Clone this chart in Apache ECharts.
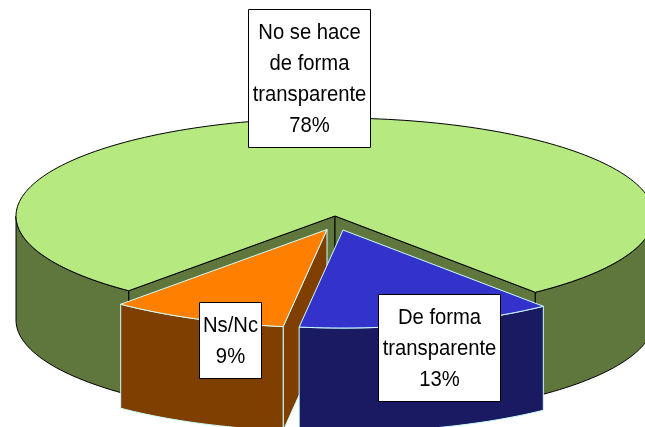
<!DOCTYPE html>
<html>
<head>
<meta charset="utf-8">
<style>html,body{margin:0;padding:0;background:#fff}#c{width:645px;height:427px}</style>
<script src="https://cdn.jsdelivr.net/npm/echarts@6/dist/echarts.min.js"></script>
</head>
<body>
<div id="c"></div>
<script>
var categories = ['No se hace de forma transparente', 'De forma transparente', 'Ns/Nc'];
var values = [78, 13, 9];
var labelLines = [['No se hace', 'de forma', 'transparente'], ['De forma', 'transparente'], ['Ns/Nc']];

var topColors = ['#B6E97F', '#3333CC', '#FF8000'];
var wallColors = ['#5F763C', '#1A1A62', '#7F3F00'];
var edgeColors = ['#000000', '#CCFFFF', '#CCFFFF'];
var offsets = [[0, 0], [8, 14], [-8, 13.5]];
var layers = [1, 3, 2];
var labelBoxes = [[248.5, 9.5, 122, 138], [378.5, 294.5, 122, 107], [199.5, 302.5, 62, 76]];

var cx = 335, cy = 216, rx = 319, ry = 98, depth = 104, startDeg = 130.3;
var total = values.reduce(function (a, b) { return a + b; }, 0);

function rim(deg, off) {
  var a = deg * Math.PI / 180;
  return [cx + off[0] + rx * Math.cos(a), cy + off[1] + ry * Math.sin(a)];
}
function arc(d0, d1, off) {
  var pts = [], n = Math.max(2, Math.ceil(Math.abs(d1 - d0) / 1.5));
  for (var i = 0; i <= n; i++) pts.push(rim(d0 + (d1 - d0) * i / n, off));
  return pts;
}
function down(p) { return [p[0], p[1] + depth]; }
function poly(points, fill, stroke, z2, w) {
  return { type: 'polygon', z2: z2, shape: { points: points },
    style: { fill: fill, stroke: stroke, lineWidth: w || 1, lineJoin: 'round' } };
}
function wallOver(d0, d1, off, i, z) {
  var p = arc(d0, d1, off);
  return poly(p.concat(p.map(down).reverse()), wallColors[i], edgeColors[i], z);
}

function renderItem(params, api) {
  var i = params.dataIndex, v = api.value(0), before = 0;
  for (var k = 0; k < i; k++) before += values[k];
  var d0 = startDeg + before / total * 360;
  var d1 = d0 + v / total * 360;
  var off = offsets[i], z = layers[i] * 10;
  var c = [cx + off[0], cy + off[1]];
  var kids = [];
  var a = rim(d0, off), b = rim(d1, off);

  function side(p) {
    return poly([c, p, down(p), down(c)], wallColors[i], edgeColors[i], z + 1);
  }
  // outer cylinder wall: only the part turned to the viewer
  for (var s = 0; s <= 1; s++) {
    var lo = Math.max(d0, s * 360), hi = Math.min(d1, 180 + s * 360);
    if (hi > lo) kids.push(wallOver(lo, hi, off, i, z + 2));
  }
  // cut faces that turn to the viewer
  if (i === 0) { kids.push(side(a)); kids.push(side(b)); }
  if (i === 2) { kids.push(side(a)); }
  // top face
  kids.push(poly([c].concat(arc(d0, d1, off)), topColors[i], edgeColors[i], z + 3));

  // label box
  var box = labelBoxes[i];
  var lines = labelLines[i].concat([v + '%']);
  kids.push({ type: 'rect', z2: 100, shape: { x: box[0], y: box[1], width: box[2], height: box[3] },
    style: { fill: '#FFFFFF', stroke: '#000000', lineWidth: 1 } });
  kids.push({ type: 'text', z2: 101, x: box[0] + box[2] / 2, y: box[1] + box[3] / 2 + 0.5, scaleX: 0.92,
    style: { text: lines.join('\n'), x: 0, y: 0, align: 'center', verticalAlign: 'middle',
      fontFamily: '"Liberation Sans", Arial, sans-serif', fontSize: 22, lineHeight: 31, fill: '#000000' } });
  return { type: 'group', children: kids };
}

var chart = echarts.init(document.getElementById('c'), null, { renderer: 'canvas' });
chart.setOption({
  animation: false,
  backgroundColor: '#FFFFFF',
  series: [{
    type: 'custom',
    coordinateSystem: 'none',
    silent: true,
    renderItem: renderItem,
    data: categories.map(function (name, i) { return { name: name, value: [values[i]] }; })
  }]
});
</script>
</body>
</html>
